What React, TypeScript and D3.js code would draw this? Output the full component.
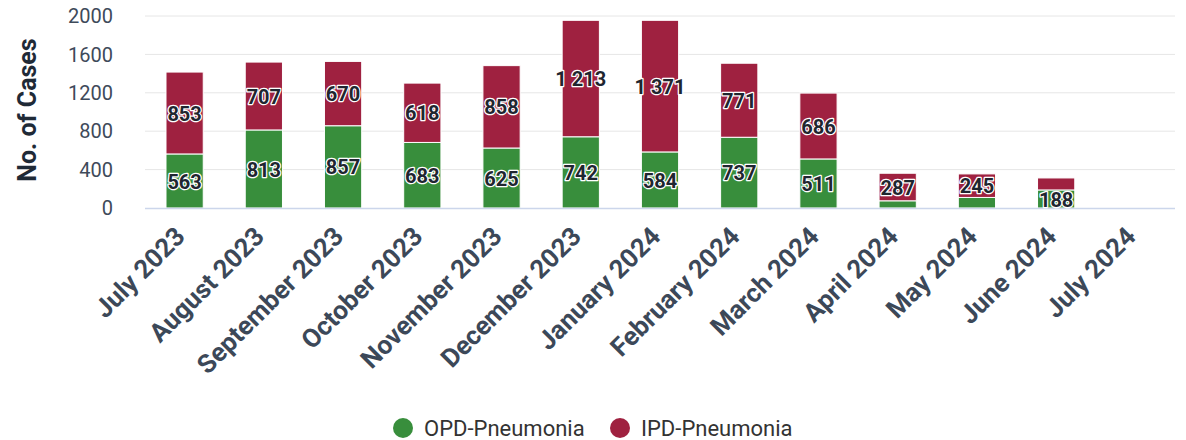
import React from "react";
import * as d3 from "d3";

const categories = [
  "July 2023", "August 2023", "September 2023", "October 2023", "November 2023",
  "December 2023", "January 2024", "February 2024", "March 2024", "April 2024",
  "May 2024", "June 2024", "July 2024",
];
const opdValues = [563, 813, 857, 683, 625, 742, 584, 737, 511, 75, 110, 188, 0];
const ipdValues = [853, 707, 670, 618, 858, 1213, 1371, 771, 686, 287, 245, 125, 0];
const yTicks = [0, 400, 800, 1200, 1600, 2000];
const seriesNames = ["OPD-Pneumonia", "IPD-Pneumonia"];
const seriesColors = ["#388e3c", "#9f2140"];

const W = 1186;
const H = 440;
const left = 145;
const right = 1175;
const top = 16;
const bottom = 208;
const FONT = "Roboto, 'Noto Sans', sans-serif";

const fmt = (v: number) => {
  const s = String(v);
  return v >= 1000 ? s.slice(0, s.length - 3) + "\u00a0" + s.slice(-3) : s;
};

export default function App() {
  const x = d3.scaleBand<string>().domain(categories).range([left, right]).padding(0);
  const y = d3.scaleLinear().domain([0, 2000]).range([bottom, top]);
  const barW = x.bandwidth() * 0.47;

  const stacks = categories.map((c, i) => {
    const o = opdValues[i];
    const p = ipdValues[i];
    return [
      { key: 0, y0: 0, y1: o, v: o },
      { key: 1, y0: o, y1: o + p, v: p },
    ];
  });

  return (
    <svg
      width={W}
      height={H}
      style={{ position: "absolute", left: 0, top: 0, fontFamily: FONT }}
    >
      <rect width={W} height={H} fill="#ffffff" />
      {yTicks.map((t) => (
        <g key={t}>
          {t !== 0 && (
            <line x1={left} x2={right} y1={y(t)} y2={y(t)} stroke="#e6e6e6" strokeWidth={1} />
          )}
          <text
            x={113}
            y={y(t)}
            dy="0.36em"
            textAnchor="end"
            fontSize={20}
            fill="#3e4a5a"
          >
            {t}
          </text>
        </g>
      ))}
      <text
        transform={`translate(36,110) rotate(-90)`}
        textAnchor="middle"
        fontSize={25}
        fontWeight="bold"
        fill="#1f2a37"
      >
        No. of Cases
      </text>

      {categories.map((c, i) => {
        const cx = (x(c) as number) + x.bandwidth() / 2;
        return (
          <g key={c}>
            {stacks[i].map((s) =>
              s.v > 0 ? (
                <rect
                  key={s.key}
                  x={cx - barW / 2}
                  y={y(s.y1)}
                  width={barW}
                  height={y(s.y0) - y(s.y1)}
                  fill={seriesColors[s.key]}
                  stroke="#ffffff"
                  strokeWidth={1}
                />
              ) : null
            )}
          </g>
        );
      })}

      <line x1={left} x2={right} y1={bottom + 0.5} y2={bottom + 0.5} stroke="#ccd6eb" strokeWidth={1.5} />

      {categories.map((c, i) => {
        const cx = (x(c) as number) + x.bandwidth() / 2;
        return (
          <g key={"l" + c}>
            {stacks[i].map((s) => {
              const h = y(s.y0) - y(s.y1);
              if (s.v <= 0 || h < 15) return null;
              const my = (y(s.y0) + y(s.y1)) / 2;
              return (
                <text
                  key={s.key}
                  x={cx}
                  y={my}
                  dy="0.38em"
                  textAnchor="middle"
                  fontSize={20}
                  fontWeight="bold"
                  fill="#1f2630"
                  stroke="#ffffff"
                  strokeWidth={2.5}
                  strokeLinejoin="round"
                  paintOrder="stroke"
                >
                  {fmt(s.v)}
                </text>
              );
            })}
          </g>
        );
      })}

      {categories.map((c) => {
        const cx = (x(c) as number) + x.bandwidth() / 2;
        return (
          <text
            key={"x" + c}
            transform={`translate(${cx + 2},${238}) rotate(-45)`}
            textAnchor="end"
            fontSize={26}
            fontWeight="bold"
            fill="#3c4858"
          >
            {c}
          </text>
        );
      })}

      {seriesNames.map((n, i) => {
        const lx = i === 0 ? 403 : 620;
        return (
          <g key={n}>
            <circle cx={lx} cy={428} r={10} fill={seriesColors[i]} />
            <text x={lx + 21} y={428} dy="0.36em" fontSize={22} fill="#333333">
              {n}
            </text>
          </g>
        );
      })}
    </svg>
  );
}
